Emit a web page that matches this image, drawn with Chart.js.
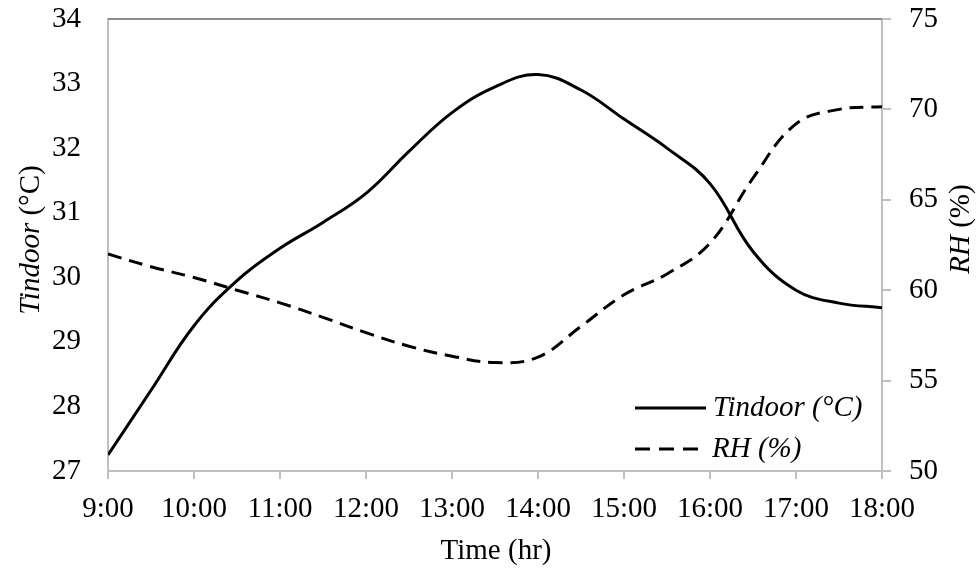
<!DOCTYPE html>
<html>
<head>
<meta charset="utf-8">
<script src="https://cdn.jsdelivr.net/npm/chart.js@4.4.1/dist/chart.umd.min.js"></script>
<style>
  html, body { margin: 0; padding: 0; background: #fff; }
  #wrap { width: 977px; height: 571px; }
</style>
</head>
<body>
<div id="wrap"><canvas id="chart" width="977" height="571"></canvas></div>
<script>
// horas (meia em meia hora) e valores
const hours = [9, 9.5, 10, 10.5, 11, 11.5, 12, 12.5, 13, 13.5, 14, 14.5, 15, 15.5, 16, 16.5, 17, 17.5, 18];
const tindoor = [27.25, 28.25, 29.25, 29.95, 30.45, 30.85, 31.3, 31.95, 32.55, 32.95, 33.14, 32.9, 32.45, 32.0, 31.45, 30.4, 29.8, 29.6, 29.53];
const rh = [62.0, 61.3, 60.7, 60.0, 59.3, 58.5, 57.65, 56.9, 56.35, 56.0, 56.3, 58.0, 59.75, 60.9, 62.6, 66.2, 69.2, 70.0, 70.15];

const leftTicks = [27, 28, 29, 30, 31, 32, 33, 34];
const rightTicks = [50, 55, 60, 65, 70, 75];

const FONT = "'Liberation Serif', 'Times New Roman', serif";
const AXIS_GRAY = '#bfbfbf';

// títulos dos eixos e legenda desenhados à mão (fontes mistas itálico/normal)
const extrasPlugin = {
  id: 'extras',
  afterDraw(chart) {
    const ctx = chart.ctx;
    const area = chart.chartArea;
    ctx.save();

    // borda superior da área do gráfico
    ctx.strokeStyle = '#8c8c8c';
    ctx.lineWidth = 2;
    ctx.beginPath();
    ctx.moveTo(area.left, area.top);
    ctx.lineTo(area.right, area.top);
    ctx.stroke();

    ctx.fillStyle = '#000';
    ctx.textBaseline = 'middle';

    // título eixo X
    ctx.font = '29px ' + FONT;
    ctx.textAlign = 'center';
    ctx.fillText('Time (hr)', (area.left + area.right) / 2 + 1, 551);

    // título eixo esquerdo
    drawMixedRotated(ctx, 31, 240, [['italic', 'Tindoor'], ['normal', ' (\u00B0C)']]);
    // título eixo direito
    drawMixedRotated(ctx, 961, 229, [['italic', 'RH'], ['normal', ' (%)']]);

    // legenda
    ctx.lineWidth = 3;
    ctx.strokeStyle = '#000';
    ctx.setLineDash([]);
    ctx.beginPath();
    ctx.moveTo(635, 408);
    ctx.lineTo(706, 408);
    ctx.stroke();
    ctx.setLineDash([15, 9]);
    ctx.beginPath();
    ctx.moveTo(635, 449);
    ctx.lineTo(706, 449);
    ctx.stroke();
    ctx.setLineDash([]);

    ctx.font = 'italic 29px ' + FONT;
    ctx.textAlign = 'left';
    ctx.fillText('Tindoor (\u00B0C)', 713, 408);
    ctx.fillText('RH (%)', 712, 449);

    ctx.restore();
  }
};

function drawMixedRotated(ctx, x, y, parts) {
  ctx.save();
  ctx.translate(x, y);
  ctx.rotate(-Math.PI / 2);
  let total = 0;
  const widths = parts.map(p => {
    ctx.font = p[0] + ' 29px ' + FONT;
    const w = ctx.measureText(p[1]).width;
    total += w;
    return w;
  });
  let cx = -total / 2;
  ctx.textAlign = 'left';
  ctx.textBaseline = 'middle';
  parts.forEach((p, i) => {
    ctx.font = p[0] + ' 29px ' + FONT;
    ctx.fillText(p[1], cx, 0);
    cx += widths[i];
  });
  ctx.restore();
}

// tamanho fixo dos eixos, sem o recuo automático dos rótulos
function fixSize(w, h) {
  return s => {
    if (w !== null) s.width = w;
    if (h !== null) s.height = h;
    s.paddingTop = 0;
    s.paddingBottom = 0;
    s.paddingLeft = 0;
    s.paddingRight = 0;
  };
}

const ctx = document.getElementById('chart').getContext('2d');
window.chart = new Chart(ctx, {
  type: 'line',
  data: {
    datasets: [
      {
        label: 'Tindoor (\u00B0C)',
        data: hours.map((h, i) => ({ x: h, y: tindoor[i] })),
        yAxisID: 'yT',
        borderColor: '#000',
        borderWidth: 3,
        pointRadius: 0,
        tension: 0.4,
        fill: false
      },
      {
        label: 'RH (%)',
        data: hours.map((h, i) => ({ x: h, y: rh[i] })),
        yAxisID: 'yRH',
        borderColor: '#000',
        borderWidth: 3,
        borderDash: [14, 8],
        pointRadius: 0,
        tension: 0.4,
        fill: false
      }
    ]
  },
  options: {
    responsive: false,
    animation: false,
    layout: { padding: { top: 19, left: 0, right: 0, bottom: 0 } },
    plugins: {
      legend: { display: false },
      tooltip: { enabled: false }
    },
    scales: {
      x: {
        type: 'linear',
        min: 9,
        max: 18,
        afterFit: fixSize(null, 100),
        afterBuildTicks: s => { s.ticks = hours.filter(h => h % 1 === 0).map(v => ({ value: v })); },
        ticks: {
          stepSize: 1,
          padding: 13,
          color: '#000',
          font: { family: FONT, size: 29 },
          maxRotation: 0,
          autoSkip: false,
          callback: v => v + ':00'
        },
        grid: { drawOnChartArea: false, tickLength: 8, color: AXIS_GRAY, lineWidth: 2 },
        border: { display: true, color: AXIS_GRAY, width: 2 }
      },
      yT: {
        position: 'left',
        min: 27,
        max: 34,
        afterFit: fixSize(108, null),
        afterBuildTicks: s => { s.ticks = leftTicks.map(v => ({ value: v })); },
        ticks: {
          padding: 27,
          color: '#000',
          font: { family: FONT, size: 29 }
        },
        grid: { drawOnChartArea: false, drawTicks: false },
        border: { display: true, color: AXIS_GRAY, width: 2 }
      },
      yRH: {
        position: 'right',
        min: 50,
        max: 75,
        afterFit: fixSize(95, null),
        afterBuildTicks: s => { s.ticks = rightTicks.map(v => ({ value: v })); },
        ticks: {
          padding: 18,
          color: '#000',
          font: { family: FONT, size: 29 }
        },
        grid: { drawOnChartArea: false, tickLength: 9, color: AXIS_GRAY, lineWidth: 2 },
        border: { display: true, color: AXIS_GRAY, width: 2 }
      }
    }
  },
  plugins: [extrasPlugin]
});
</script>
</body>
</html>
